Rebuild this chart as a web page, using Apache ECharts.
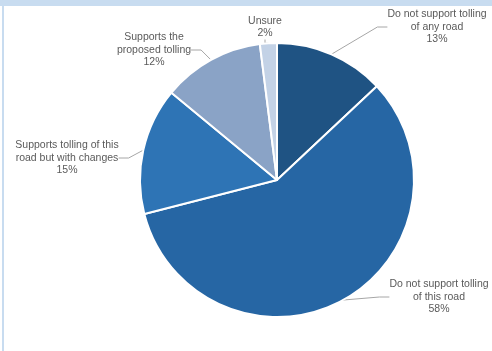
<!DOCTYPE html>
<html><head><meta charset="utf-8">
<script src="https://cdn.jsdelivr.net/npm/echarts@6/dist/echarts.min.js"></script>
<style>html,body{margin:0;padding:0;background:#fff}#c{width:492px;height:351px}</style>
</head><body><div id="c"></div>
<script>
const categories = [
  "Do not support tolling\nof any road",
  "Do not support tolling\nof this road",
  "Supports tolling of this\nroad but with changes",
  "Supports the\nproposed tolling",
  "Unsure"
];
const values = [13, 58, 15, 12, 2];
const colors = ["#1f5383", "#2666a4", "#2e74b5", "#8aa3c6", "#c3d2e6"];
const labelPos = [[437, 27], [439, 297], [67, 158], [154, 50], [265, 27]];

const chart = echarts.init(document.getElementById('c'), null, {renderer: 'canvas'});
chart.setOption({
  animation: false,
  graphic: [
    {type: 'rect', shape: {x: 0, y: 0, width: 492, height: 6}, style: {fill: '#c8dcf0'}},
    {type: 'rect', shape: {x: 2, y: 0, width: 2, height: 351}, style: {fill: '#c8dcf0'}}
  ],
  series: [{
    type: 'pie',
    center: [277, 180],
    radius: 137,
    startAngle: 90,
    clockwise: true,
    itemStyle: {borderColor: '#ffffff', borderWidth: 2},
    label: {
      formatter: p => p.name + '\n' + p.value + '%',
      fontFamily: 'Liberation Sans, Arial, sans-serif',
      fontSize: 10.5,
      lineHeight: 12.5,
      color: '#5a5a5a',
      align: 'center'
    },
    labelLine: {lineStyle: {color: '#a6a6a6', width: 1}, length: 10, length2: 10},
    labelLayout: function (p) {
      const pos = labelPos[p.dataIndex];
      return {x: pos[0], y: pos[1], align: 'center', verticalAlign: 'middle'};
    },
    data: categories.map((c, i) => ({name: c, value: values[i], itemStyle: {color: colors[i]}}))
  }]
});
</script></body></html>
